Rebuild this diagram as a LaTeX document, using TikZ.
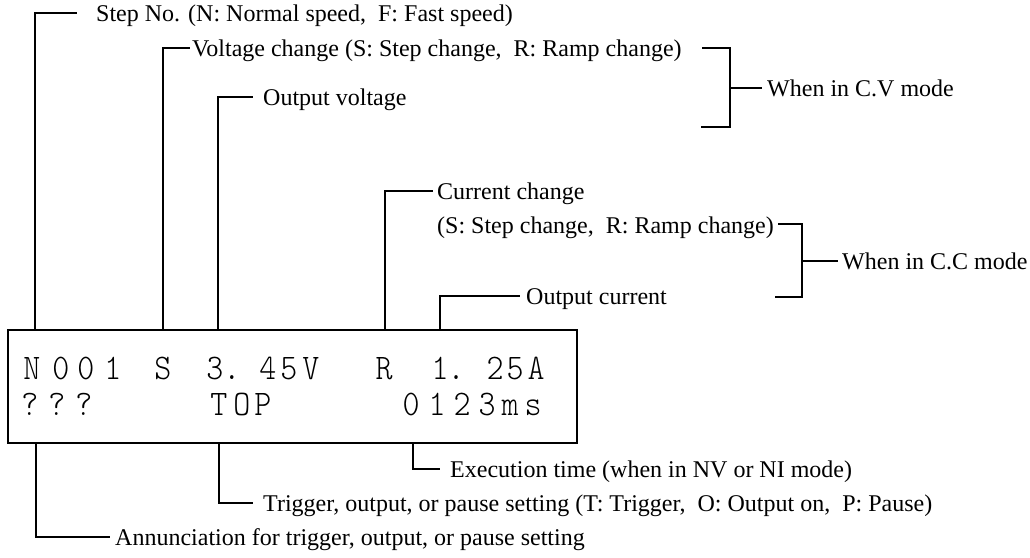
\documentclass[tikz,border=0pt]{standalone}
\usepackage{fontspec}
\setmainfont{Liberation Serif}
\newfontfamily\lcdfont{lmmonolt10-regular.otf}[FakeStretch=0.9]
\usetikzlibrary{positioning}

\begin{document}
\begin{tikzpicture}[
    x=1pt, y=-1pt,
    lbl/.style={
        font=\fontsize{24}{28}\selectfont,
        inner sep=0pt,
        text height=18pt,
        text depth=2pt
    },
    lead/.style={line width=1.3pt},
    lcdbox/.style={
        draw,
        line width=1.8pt,
        minimum width=569pt,
        minimum height=113pt,
        inner sep=0pt
    },
    lcd/.style={font=\lcdfont\fontsize{36}{36}\selectfont, inner sep=0pt, anchor=base}
]
\useasboundingbox (0,0) rectangle (1030,557);

% === Display ===
\node[lcdbox] (box) at (292.5,386.5) {};
\foreach \ch/\x [count=\i] in {N/32, 0/61, 0/86, 1/113, S/163, 3/215, ./232, 4/268, 5/289, V/311, R/384, 1/440, ./456, 2/495, 5/515, A/536}
    \node[lcd] (ra\i) at (\x,379) {\ch};
\foreach \ch/\x [count=\i] in {?/30, ?/57, ?/84, T/219, O/242, P/263, 0/411, 1/437, 2/462, 3/487, m/510, s/533}
    \node[lcd] (rb\i) at (\x,415) {\ch};

% === Upper labels ===
\coordinate (cStep) at (35,13);
\coordinate (kStep) at (77,13);
\node[lbl, right=19pt of kStep] (tStep) {Step No. (N: Normal speed,\ \ F: Fast speed)};

\coordinate (cVolt) at (163,48);
\coordinate (kVolt) at (190,48);
\node[lbl, right=2pt of kVolt] (tVolt) {Voltage change (S: Step change,\ \ R: Ramp change)};

\coordinate (cOutV) at (218,97);
\coordinate (kOutV) at (253,97);
\node[lbl, right=10pt of kOutV] (tOutV) {Output voltage};

\coordinate (cCur) at (385,191);
\coordinate (kCur) at (433,191);
\node[lbl, right=4pt of kCur] (tCur) {Current change};
\node[lbl, below=14pt of tCur.south west, anchor=north west] (tCurSub) {(S: Step change,\ \ R: Ramp change)};

\coordinate (cOutI) at (440,296);
\coordinate (kOutI) at (520,296);
\node[lbl, right=6pt of kOutI] (tOutI) {Output current};

% === Mode brackets ===
\coordinate (cvTop) at (702,48);
\coordinate (cvMid) at (730,88);
\coordinate (cvBot) at (701,127);
\coordinate (cvEnd) at (762,88);
\node[lbl, right=5pt of cvEnd] (tCV) {When in C.V mode};

\coordinate (ccTop) at (778,224);
\coordinate (ccMid) at (802,261);
\coordinate (ccBot) at (775,297);
\coordinate (ccEnd) at (838,261);
\node[lbl, right=4pt of ccEnd] (tCC) {When in C.C mode};

% === Lower labels ===
\coordinate (cExec) at (413,469);
\coordinate (kExec) at (440,469);
\node[lbl, right=10pt of kExec] (tExec) {Execution time (when in NV or NI mode)};

\coordinate (cTrig) at (219,503);
\coordinate (kTrig) at (253,503);
\node[lbl, right=10pt of kTrig] (tTrig) {Trigger, output, or pause setting (T: Trigger,\ \ O: Output on,\ \ P: Pause)};

\coordinate (cAnn) at (36,537);
\coordinate (kAnn) at (110,537);
\node[lbl, right=5pt of kAnn] (tAnn) {Annunciation for trigger, output, or pause setting};

% === Leaders ===
\draw[lead] (cStep |- box.north) -- (cStep) -- (kStep);
\draw[lead] (cVolt |- box.north) -- (cVolt) -- (kVolt);
\draw[lead] (cOutV |- box.north) -- (cOutV) -- (kOutV);
\draw[lead] (cCur |- box.north) -- (cCur) -- (kCur);
\draw[lead] (cOutI |- box.north) -- (cOutI) -- (kOutI);
\draw[lead] (cvTop) -| (cvMid) |- (cvBot);
\draw[lead] (cvMid) -- (cvEnd);
\draw[lead] (ccTop) -| (ccMid) |- (ccBot);
\draw[lead] (ccMid) -- (ccEnd);
\draw[lead] (cExec |- box.south) -- (cExec) -- (kExec);
\draw[lead] (cTrig |- box.south) -- (cTrig) -- (kTrig);
\draw[lead] (cAnn |- box.south) -- (cAnn) -- (kAnn);

\end{tikzpicture}
\end{document}
